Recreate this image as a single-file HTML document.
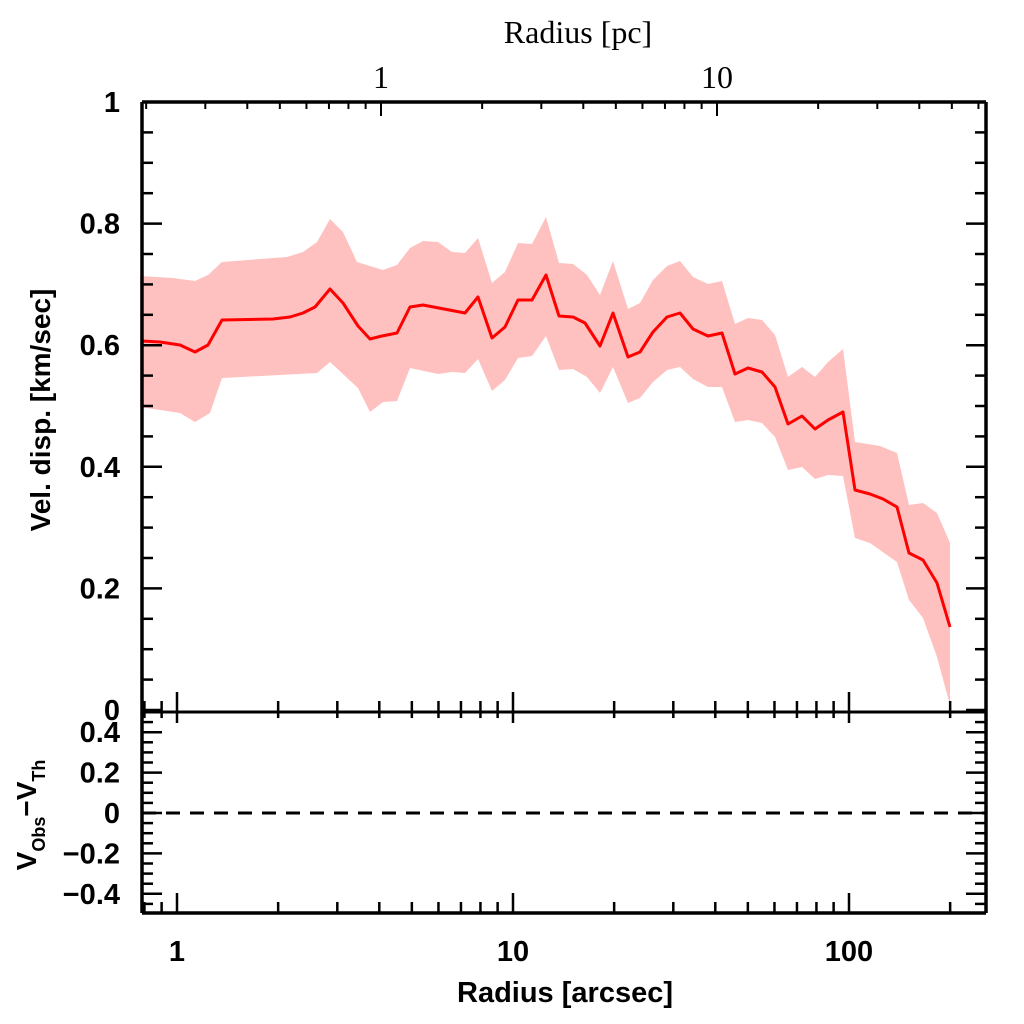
<!DOCTYPE html>
<html><head><meta charset="utf-8"><style>
html,body{margin:0;padding:0;background:#fff}
svg{display:block}
text{font-family:"Liberation Sans",sans-serif;font-weight:bold;fill:#000}
</style></head><body>
<svg id="s" width="1024" height="1024" viewBox="0 0 1024 1024" xmlns="http://www.w3.org/2000/svg">
<polygon fill="#ffc0c0" points="140,276 173,278 195,281 208,275 222,262 287,257 303,252 317,242 330,219 343,232 357,262 383,270 397,265 410,248 423,241 438,242 452,252 465,253 478,238 492,283 505,272 518,243 532,244 546,217 559,263 573,264 587,275 600,295 613,261 628,309 640,303 653,280 667,266 680,261 693,277 708,284 722,281 735,324 748,318 762,320 775,335 788,377 802,367 815,377 828,362 843,349 855,442 880,446 897,453 909,505 923,503 937,513 950,543 950,705 937,657 923,618 909,600 897,562 870,543 855,538 843,476 828,475 815,479 802,467 788,470 775,437 762,423 748,420 735,422 722,387 708,387 693,379 680,367 667,370 653,382 640,398 628,403 613,367 600,393 587,377 573,369 559,370 546,336 532,356 518,358 505,380 492,391 478,359 465,373 452,372 438,374 410,368 397,401 383,402 370,412 358,388 330,362 317,373 222,378 210,413 195,422 180,413 140,407"/>
<polyline fill="none" stroke="#ff0000" stroke-width="3" stroke-linejoin="round" points="142,341 160,342 180,345 195,352 208,345 222,320 273,319 290,317 303,313 315,307 330,289 343,303 358,326 370,339 382,336 397,333 410,307 423,305 465,313 478,297 492,338 505,327 518,300 532,300 546,275 559,316 573,317 585,323 600,346 613,313 628,357 640,352 653,332 667,317 680,313 693,329 708,336 722,333 735,374 748,368 762,372 775,387 788,424 802,416 815,429 828,420 843,412 855,490 870,494 883,499 897,507 909,553 923,560 937,583 950,627"/>
<line x1="142" y1="813" x2="986" y2="813" stroke="#000" stroke-width="3" stroke-dasharray="14,10"/>
<g id="ax" stroke="#000" fill="none"></g>
<g id="lb"></g>
<text x="565" y="1002" font-size="29" text-anchor="middle">Radius [arcsec]</text>
<text x="578" y="43" font-size="32" text-anchor="middle" style="font-family:'Liberation Serif',serif;font-weight:normal">Radius [pc]</text>
<text transform="translate(50,410) rotate(-90)" font-size="28" text-anchor="middle">Vel. disp. [km/sec]</text>
<text transform="translate(36,815) rotate(-90)" font-size="28" text-anchor="middle">V<tspan font-size="18" dy="9">Obs</tspan><tspan dy="-9">−V</tspan><tspan font-size="18" dy="9">Th</tspan></text>
</svg>
<script>
var ax=document.getElementById('ax'),lb=document.getElementById('lb'),NS='http://www.w3.org/2000/svg';
function L(x1,y1,x2,y2,w){var l=document.createElementNS(NS,'line');l.setAttribute('x1',x1);l.setAttribute('y1',y1);l.setAttribute('x2',x2);l.setAttribute('y2',y2);l.setAttribute('stroke-width',w||3);ax.appendChild(l);}
function T(x,y,s,a,fs,serif){var t=document.createElementNS(NS,'text');t.setAttribute('x',x);t.setAttribute('y',y);t.setAttribute('text-anchor',a);t.setAttribute('font-size',fs||29);if(serif)t.setAttribute('style',"font-family:'Liberation Serif',serif;font-weight:normal");t.textContent=s;lb.appendChild(t);}
var XL=142,XR=986,YT=102,YD=712,YB=913;
L(XL,YT,XR,YT,3.5);L(XL,YT,XL,YB,3.5);L(XR,YT,XR,YB,3.5);L(XL,YB,XR,YB,3.5);L(XL,YD,XR,YD,3);
function xa(r){return 177+336*Math.log10(r);}
for(var d=0.1;d<=100;d*=10){for(var m=1;m<=9;m++){var r=m*d,x=xa(r);if(x<=XL+1||x>=XR-1)continue;var maj=(m==1);var len=maj?20:11;
 L(x,YB,x,YB-len,2.5);L(x,YD,x,YD-len,2.5);L(x,YD,x,YD+len*0.55,2.5);}}
T(177,961,'1','middle');T(513,961,'10','middle');T(849,961,'100','middle');
function xp(r){return 381+336*Math.log10(r);}
for(var d=0.1;d<=10;d*=10){for(var m=1;m<=9;m++){var r=m*d,x=xp(r);if(x<=XL+1||x>=XR-1)continue;var maj=(m==1);L(x,YT,x,YT+(maj?14:7),2);}}
T(381,88,'1','middle',32,1);T(717,88,'10','middle',32,1);
for(var i=0;i<=20;i++){var v=i*0.05,y=710-608*v;if(y<YT-1)continue;var maj=(i%4==0),len=maj?20:11;L(XL,y,XL+len,y,2.5);L(XR,y,XR-len,y,2.5);}
['0','0.2','0.4','0.6','0.8','1'].forEach(function(s,i){T(120,710-608*0.2*i+10,s,'end');});
for(var i=-10;i<=10;i++){var v=i*0.05,y=813-202*v;if(y>YB-2||y<YD+2)continue;var maj=(i%4==0),len=maj?20:11;L(XL,y,XL+len,y,2.5);L(XR,y,XR-len,y,2.5);}
[['0.4',0.4],['0.2',0.2],['0',0],['−0.2',-0.2],['−0.4',-0.4]].forEach(function(p){T(120,813-202*p[1]+10,p[0],'end');});
</script>
</body></html>
